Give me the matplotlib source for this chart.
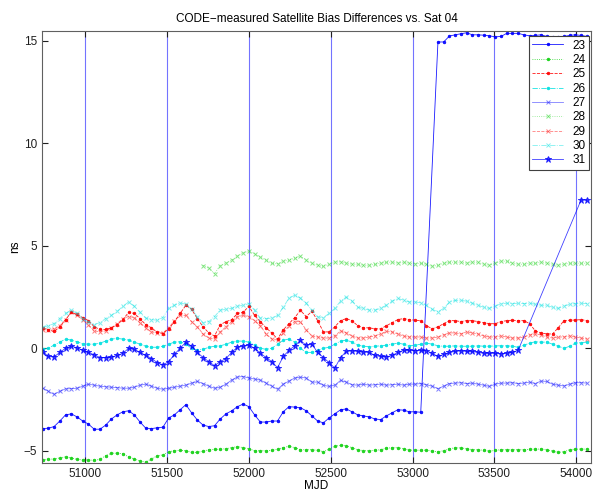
import numpy as np
import matplotlib
matplotlib.use("Agg")
import matplotlib.pyplot as plt

plt.rcParams['font.family'] = ['Liberation Sans', 'DejaVu Sans']

# sampling grid (MJD)
mjd = np.arange(50740, 54080, 35)
nan = np.nan

s23 = [-3.92, -3.9, -3.82, -3.55, -3.25, -3.2, -3.35, -3.55, -3.7, -3.95,
       -3.95, -3.75, -3.45, -3.25, -3.1, -3.05, -3.25, -3.6, -3.9, -3.92,
       -3.88, -3.85, -3.4, -3.25, -3.0, -2.75, -3.15, -3.5, -3.75, -3.82,
       -3.78, -3.45, -3.2, -3.05, -2.85, -2.72, -2.85, -3.25, -3.6, -3.6,
       -3.55, -3.55, -3.1, -2.85, -2.87, -2.9, -3.05, -3.3, -3.55, -3.64,
       -3.4, -3.2, -3.0, -2.96, -3.1, -3.25, -3.3, -3.35, -3.45, -3.48,
       -3.3, -3.15, -3.0, -3.02, -3.1, -3.1, -3.12, nan, nan, 14.95,
       14.95, 15.24, 15.3, 15.35, 15.4, 15.3, 15.3, 15.28, 15.25, 15.2,
       15.22, 15.37, 15.37, 15.37, 15.3, 15.25, 15.27, 15.3, 15.22, 15.2,
       15.2, 15.22, 15.27, 15.3, 15.27, 15.22]

s24 = [-5.45, -5.42, -5.4, -5.35, -5.3, -5.35, -5.42, -5.45, -5.45, -5.47,
       -5.42, -5.25, -5.12, -5.12, -5.15, -5.3, -5.4, -5.5, -5.55, -5.4,
       -5.25, -5.2, -5.05, -5.0, -4.98, -5.0, -5.08, -5.08, -5.02, -4.95,
       -4.93, -4.93, -4.9, -4.85, -4.8, -4.85, -4.9, -5.0, -5.0, -5.0,
       -4.98, -4.92, -4.85, -4.78, -4.85, -4.95, -4.95, -4.95, -4.98, -5.05,
       -4.92, -4.78, -4.74, -4.75, -4.85, -4.95, -5.0, -5.0, -4.98, -4.95,
       -4.88, -4.85, -4.85, -4.9, -4.97, -4.97, -4.98, -4.97, -5.02, -5.05,
       -5.0, -4.9, -4.86, -4.86, -4.9, -4.95, -4.95, -4.98, -5.02, -4.98,
       -4.95, -4.95, -4.95, -4.95, -4.95, -4.93, -4.92, -4.92, -4.95, -5.02,
       -5.08, -5.05, -4.95, -4.92, -4.92, -4.92]

s25 = [1.0, 0.9, 0.82, 1.05, 1.4, 1.75, 1.65, 1.5, 1.35, 1.05,
       0.92, 0.92, 1.0, 1.15, 1.4, 1.75, 1.7, 1.45, 1.15, 1.0,
       0.78, 0.72, 0.95, 1.3, 1.7, 2.1, 1.9, 1.45, 1.05, 0.75,
       0.6, 1.15, 1.3, 1.4, 1.7, 1.76, 2.05, 1.6, 1.3, 1.0,
       0.75, 0.45, 0.9, 1.2, 1.5, 1.85, 1.55, 1.8, 1.35, 0.8,
       0.8, 1.05, 1.35, 1.45, 1.35, 1.1, 1.0, 1.0, 0.95, 0.95,
       1.1, 1.25, 1.4, 1.45, 1.4, 1.37, 1.35, 1.1, 0.95, 1.05,
       1.2, 1.35, 1.35, 1.3, 1.35, 1.35, 1.3, 1.25, 1.2, 1.2,
       1.3, 1.35, 1.37, 1.35, 1.35, 1.2, 0.85, 0.75, 0.7, 0.7,
       1.0, 1.35, 1.37, 1.38, 1.4, 1.35]

s26 = [-0.05, 0.0, 0.16, 0.3, 0.45, 0.4, 0.32, 0.22, 0.2, 0.2,
       0.25, 0.35, 0.45, 0.48, 0.45, 0.4, 0.3, 0.2, 0.1, 0.05,
       0.05, 0.1, 0.2, 0.3, 0.32, 0.2, 0.0, -0.08, -0.05, 0.05,
       0.1, 0.12, 0.2, 0.3, 0.35, 0.35, 0.3, 0.15, 0.0, -0.05,
       0.0, 0.2, 0.4, 0.45, 0.3, 0.0, -0.2, -0.2, -0.1, 0.0,
       0.05, 0.2, 0.35, 0.4, 0.3, 0.15, 0.1, 0.08, 0.1, 0.12,
       0.15, 0.2, 0.25, 0.2, 0.12, 0.15, 0.2, 0.25, 0.2, 0.12,
       0.1, 0.1, 0.12, 0.1, 0.1, 0.1, 0.12, 0.1, 0.1, 0.12,
       0.12, 0.12, 0.1, 0.05, 0.15, 0.25, 0.32, 0.3, 0.3, 0.2,
       0.1, 0.0, 0.1, 0.25, 0.28, 0.3]

s27 = [-1.94, -2.1, -2.25, -2.1, -1.98, -1.97, -1.95, -1.85, -1.75, -1.8,
       -1.85, -1.88, -1.9, -1.92, -1.95, -1.95, -1.9, -1.8, -1.75, -1.85,
       -1.95, -2.0, -1.95, -1.9, -1.85, -1.8, -1.7, -1.62, -1.72, -1.85,
       -1.95, -1.9, -1.75, -1.55, -1.4, -1.38, -1.45, -1.5, -1.55, -1.7,
       -1.85, -2.0, -1.75, -1.6, -1.45, -1.41, -1.45, -1.65, -1.65, -1.8,
       -1.86, -1.8, -1.57, -1.65, -1.78, -1.8, -1.75, -1.8, -1.78, -1.75,
       -1.8, -1.78, -1.75, -1.8, -1.75, -1.75, -1.72, -1.78, -1.85, -1.97,
       -1.85, -1.72, -1.7, -1.68, -1.72, -1.7, -1.75, -1.8, -1.86, -1.75,
       -1.7, -1.7, -1.68, -1.72, -1.7, -1.65, -1.72, -1.6, -1.62, -1.75,
       -1.8, -1.84, -1.75, -1.68, -1.68, -1.7]

s28 = [nan] * 28 + [
       4.04, 3.9, 3.64, 4.04, 4.15, 4.3, 4.5, 4.65, 4.75, 4.6,
       4.45, 4.3, 4.15, 4.12, 4.25, 4.3, 4.4, 4.5, 4.3, 4.15,
       4.05, 4.0, 4.1, 4.2, 4.22, 4.15, 4.1, 4.1, 4.05, 4.05,
       4.1, 4.15, 4.2, 4.2, 4.15, 4.2, 4.15, 4.12, 4.15, 4.1,
       4.0, 4.05, 4.15, 4.2, 4.2, 4.2, 4.15, 4.2, 4.2, 4.1,
       4.05, 4.15, 4.25, 4.25, 4.15, 4.1, 4.1, 4.15, 4.15, 4.2,
       4.15, 4.1, 4.05, 4.1, 4.15, 4.15, 4.15, 4.15]

s29 = [0.9, 0.9, 0.95, 1.1, 1.4, 1.76, 1.6, 1.4, 1.15, 0.85,
       0.8, 0.85, 1.0, 1.2, 1.45, 1.55, 1.5, 1.25, 1.0, 0.8,
       0.75, 0.75, 1.0, 1.35, 1.6, 1.6, 1.3, 1.05, 0.7, 0.5,
       0.45, 0.8, 1.05, 1.3, 1.55, 1.6, 1.55, 1.35, 1.1, 0.7,
       0.45, 0.4, 0.75, 1.1, 1.3, 1.3, 0.9, 0.6, 0.55, 0.5,
       0.5, 0.6, 0.85, 0.75, 0.6, 0.5, 0.5, 0.55, 0.6, 0.7,
       0.82, 0.8, 0.7, 0.6, 0.55, 0.55, 0.55, 0.5, 0.5, 0.55,
       0.65, 0.75, 0.75, 0.7, 0.8, 0.75, 0.7, 0.6, 0.55, 0.55,
       0.6, 0.55, 0.5, 0.5, 0.55, 0.65, 0.7, 0.65, 0.55, 0.5,
       0.55, 0.55, 0.6, 0.55, 0.5, 0.45]

s30 = [1.02, 1.1, 1.2, 1.45, 1.7, 1.86, 1.7, 1.45, 1.3, 1.16,
       1.25, 1.45, 1.6, 1.8, 2.05, 2.26, 2.05, 1.75, 1.47, 1.4,
       1.37, 1.5, 1.95, 2.1, 2.21, 2.15, 1.9, 1.55, 1.25, 1.3,
       1.55, 1.86, 1.9, 1.95, 2.05, 2.1, 2.18, 1.85, 1.47, 1.45,
       1.47, 1.6, 2.0, 2.45, 2.59, 2.45, 2.2, 1.85, 1.53, 1.5,
       1.7, 1.95, 2.3, 2.5, 2.3, 2.0, 1.95, 1.86, 1.86, 1.95,
       2.1, 2.3, 2.43, 2.35, 2.26, 2.26, 2.22, 2.1, 1.9, 1.78,
       1.95, 2.25, 2.34, 2.34, 2.3, 2.2, 2.1, 2.0, 1.95, 2.05,
       2.18, 2.2, 2.18, 2.2, 2.18, 2.2, 2.15, 2.1, 2.1, 2.0,
       1.95, 2.05, 2.15, 2.18, 2.2, 2.18]

s31 = [-0.16, -0.4, -0.42, -0.2, 0.0, 0.11, 0.02, -0.1, -0.2, -0.32,
       -0.45, -0.45, -0.43, -0.35, -0.25, 0.0, -0.05, -0.2, -0.35, -0.5,
       -0.7, -0.81, -0.65, -0.3, 0.0, 0.3, 0.1, -0.2, -0.45, -0.65,
       -0.85, -0.65, -0.5, -0.2, 0.05, 0.1, 0.16, 0.0, -0.24, -0.45,
       -0.65, -0.95, -0.4, -0.1, 0.12, 0.38, 0.15, 0.2, -0.2, -0.45,
       -0.7, -0.97, -0.45, -0.15, -0.12, -0.15, -0.18, -0.2, -0.35, -0.4,
       -0.42, -0.35, -0.2, -0.1, -0.1, -0.12, -0.1, -0.12, -0.25, -0.4,
       -0.3, -0.2, -0.15, -0.12, -0.15, -0.15, -0.2, -0.24, -0.25, -0.24,
       -0.28, -0.24, -0.2, -0.1, nan, nan, nan, nan, nan, nan,
       nan, nan, nan, nan, 7.25, 7.22]

sats = ['23', '24', '25', '26', '27', '28', '29', '30', '31']
series = [s23, s24, s25, s26, s27, s28, s29, s30, s31]
# matlab-ish colour / line / marker per satellite
colors = ['#0000ff', '#10d010', '#ff0000', '#00e0e0',
          '#0000ff', '#10d010', '#ff0000', '#00e0e0', '#0000ff']
lines = ['-', ':', '--', '-.', '-', ':', '--', '-.', '-']
marks = ['.', '.', '.', '.', 'x', 'x', 'x', 'x', '*']

fig = plt.figure(figsize=(5.93, 4.92), dpi=100)
ax = fig.add_axes([0.0708, 0.0589, 0.9258, 0.8787])

for name, ys, c, ls, mk in zip(sats, series, colors, lines, marks):
    ys = np.array(ys, dtype=float)
    ok = np.isfinite(ys)
    ms = {'.': 3.5, 'x': 3.5, '*': 5}[mk]
    a = {'.': 0.9, 'x': 0.5, '*': 0.75}[mk]
    ax.plot(mjd[ok], ys[ok], color=c, ls=ls, marker=mk, lw=0.6, ms=ms,
            mew=0.7, alpha=a, label=name)

for xv in range(51000, 54001, 500):
    ax.axvline(xv, color='#0000ff', lw=0.8, alpha=0.55, zorder=0)

ax.set_xlim(50736, 54090)
ax.set_ylim(-5.6, 15.5)
ax.set_xticks([51000, 51500, 52000, 52500, 53000, 53500, 54000])
ax.set_yticks([-5, 0, 5, 10, 15])
ax.tick_params(direction='in', top=True, right=True, labelsize=8.5, length=4,
               colors='#202020')
for sp in ax.spines.values():
    sp.set_color('#606060')
ax.set_title('CODE\u2212measured Satellite Bias Differences vs. Sat 04', fontsize=8.5)
ax.set_xlabel('MJD', fontsize=8.5, labelpad=0)
ax.set_ylabel('ns', fontsize=8.5, labelpad=2)

leg = ax.legend(loc='upper right', bbox_to_anchor=(0.9964, 0.9877), fontsize=8.5,
                fancybox=False, edgecolor='#404040', framealpha=1,
                handlelength=2.6, labelspacing=0.2, borderpad=0.3, borderaxespad=0)
leg.get_frame().set_linewidth(0.8)

fig.savefig('out.png', dpi=100)
